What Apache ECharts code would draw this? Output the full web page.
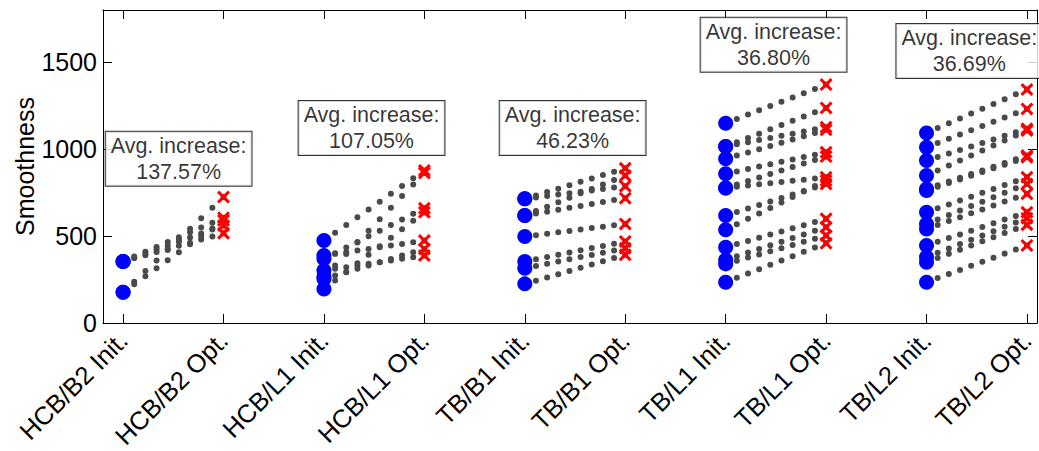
<!DOCTYPE html>
<html><head><meta charset="utf-8">
<script src="https://cdn.jsdelivr.net/npm/echarts@6/dist/echarts.min.js"></script>
<style>html,body{margin:0;padding:0;background:#fff}#c{width:1039px;height:451px}</style>
</head><body><div id="c"></div>
<script>
// ---- data ----
const categories = ['HCB/B2 Init.', 'HCB/B2 Opt.', 'HCB/L1 Init.', 'HCB/L1 Opt.', 'TB/B1 Init.', 'TB/B1 Opt.', 'TB/L1 Init.', 'TB/L1 Opt.', 'TB/L2 Init.', 'TB/L2 Opt.'];
const yTicks = [0, 500, 1000, 1500];

const hcbB2Init = [177, 177, 354, 354, 354];
const hcbB2Opt  = [724, 590, 605, 561, 516];

const hcbL1Init = [474, 264, 369, 196, 388, 302, 254];
const hcbL1Opt  = [877, 863, 660, 637, 474, 388, 426];

const tbB1Init = [714, 714, 618, 618, 497, 354, 315, 225];
const tbB1Opt  = [890, 787, 848, 718, 570, 469, 430, 392];

const tbL1Init = [1149, 1015, 1015, 944, 858, 777, 777, 618, 536, 436, 363, 340, 235];
const tbL1Opt  = [1371, 1237, 1126, 1111, 982, 957, 838, 800, 819, 599, 551, 503, 459];

const tbL2Init = [1093, 1011, 934, 848, 771, 762, 637, 570, 541, 446, 379, 350, 235];
const tbL2Opt  = [1343, 1231, 1117, 1107, 963, 953, 838, 800, 743, 637, 603, 565, 446];

const avgIncrease = ['137.57%', '107.05%', '46.23%', '36.80%', '36.69%'];
const annotationX = [1.553, 3.474, 5.476, 7.477, 9.426];
const annotationY = [944, 1121, 1121, 1600, 1564];

// ---- build ----
const FONT = "'Liberation Sans', Arial, Helvetica, sans-serif";
const groups = [
  [hcbB2Init, hcbB2Opt], [hcbL1Init, hcbL1Opt], [tbB1Init, tbB1Opt],
  [tbL1Init, tbL1Opt], [tbL2Init, tbL2Opt]
];
const xTickVals = categories.map((c, i) => i + 1);
const X_MIN = 0.8, X_MAX = 10.1, Y_MIN = 0, Y_MAX = 1800;

const pairs = [];
const initPts = [], optPts = [];
groups.forEach((g, gi) => {
  const xi = 2 * gi + 1;
  g[0].forEach((v, k) => {
    pairs.push([[xi, v], [xi + 1, g[1][k]]]);
    initPts.push([xi, v]);
    optPts.push([xi + 1, g[1][k]]);
  });
});

const X_PATH = 'path://M0,2 L2,0 L6,4 L10,0 L12,2 L8,6 L12,10 L10,12 L6,8 L2,12 L0,10 L4,6 Z';

function lineSeries(gaps) {
  return pairs.map((p, i) => ({
    type: 'line', data: p, symbol: 'none', silent: true, z: 2, animation: false,
    lineStyle: { color: '#4a4a4a', width: 6, opacity: 1, type: [0, gaps ? gaps[i] : 11.1], cap: 'round' }
  }));
}

function buildSeries(gaps) {
  return lineSeries(gaps).concat([
    { type: 'scatter', data: initPts, symbol: 'circle', symbolSize: 15, z: 3, animation: false,
      itemStyle: { color: '#0000ff', opacity: 1 } },
    { type: 'scatter', data: optPts, symbol: X_PATH, symbolSize: 13, z: 4, animation: false,
      itemStyle: { color: '#ff0000', opacity: 1 } },
    { type: 'scatter', z: 6, animation: false, symbolSize: 1, silent: true,
      itemStyle: { color: 'rgba(0,0,0,0)' },
      data: avgIncrease.map((t, i) => ({ value: [annotationX[i], annotationY[i]], name: t })),
      label: { show: true, position: 'inside', formatter: p => 'Avg. increase:\n' + p.name,
        fontFamily: FONT, fontSize: 21.5, lineHeight: 26, color: '#000', align: 'center',
        backgroundColor: '#fff', borderColor: '#000', borderWidth: 1, padding: [1, 5, 1, 5] } }
  ]);
}

const axisCommonX = {
  type: 'value', min: X_MIN, max: X_MAX, splitLine: { show: false },
  axisLine: { show: true, onZero: false, lineStyle: { color: '#000', width: 1 } },
  axisTick: { show: true, inside: true, length: 9, customValues: xTickVals, lineStyle: { color: '#000' } }
};
const axisCommonY = {
  type: 'value', min: Y_MIN, max: Y_MAX, splitLine: { show: false },
  axisLine: { show: true, onZero: false, lineStyle: { color: '#000', width: 1 } },
  axisTick: { show: true, inside: true, length: 9, customValues: yTicks, lineStyle: { color: '#000' } }
};

const chart = echarts.init(document.getElementById('c'), null, { renderer: 'svg' });
const option = {
  animation: false,
  backgroundColor: '#fff',
  textStyle: { fontFamily: FONT },
  grid: { left: 103, right: 2, top: 10, bottom: 128, containLabel: false, outerBoundsMode: 'none' },
  xAxis: [
    Object.assign({}, axisCommonX, { position: 'bottom',
      axisLabel: { show: true, customValues: xTickVals, rotate: 45, margin: 13,
        formatter: v => categories[Math.round(v) - 1], fontFamily: FONT, fontSize: 25.5, color: '#000' } }),
    Object.assign({}, axisCommonX, { position: 'top', axisLabel: { show: false } })
  ],
  yAxis: [
    Object.assign({}, axisCommonY, { position: 'left', name: 'Smoothness', nameLocation: 'middle', nameGap: 66,
      nameMoveOverlap: false,
      nameTextStyle: { fontFamily: FONT, fontSize: 25, color: '#000' },
      axisLabel: { show: true, customValues: yTicks, margin: 6, fontFamily: FONT, fontSize: 25, color: '#000',
        formatter: v => String(v) } }),
    Object.assign({}, axisCommonY, { position: 'right', axisLabel: { show: false } })
  ],
  series: buildSeries(null)
};
chart.setOption(option);

// dot spacing: each connector shows ten evenly spaced dots between its two markers
const gaps = pairs.map(p => {
  const a = chart.convertToPixel({ xAxisIndex: 0, yAxisIndex: 0 }, p[0]);
  const b = chart.convertToPixel({ xAxisIndex: 0, yAxisIndex: 0 }, p[1]);
  return Math.hypot(b[0] - a[0], b[1] - a[1]) / 9 - 0.001;
});
chart.setOption({ series: buildSeries(gaps) });
</script>
</body></html>
